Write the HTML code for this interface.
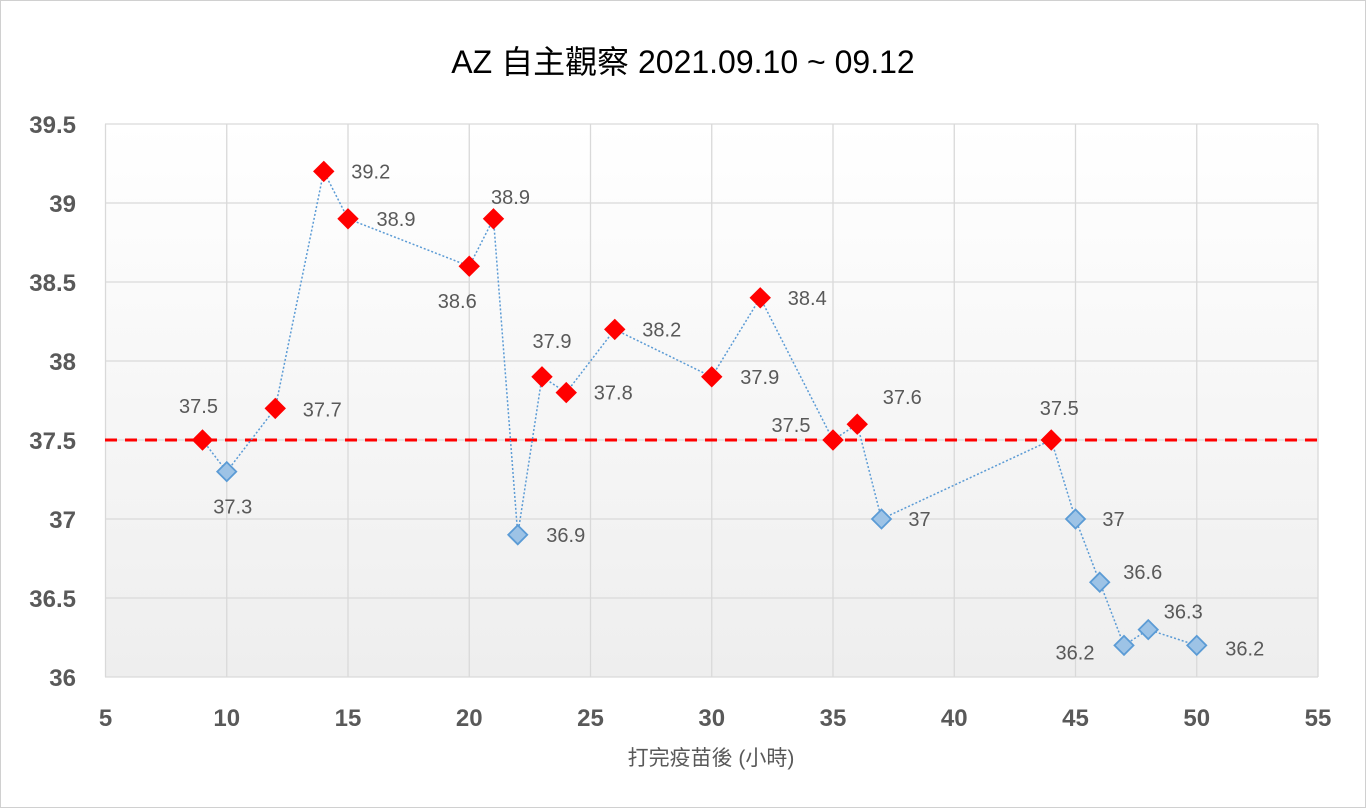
<!DOCTYPE html>
<html><head><meta charset="utf-8"><style>
html,body{margin:0;padding:0;background:#fff}
svg{display:block;font-family:"Liberation Sans","Noto Sans CJK TC",sans-serif}
</style></head><body>
<svg id="chart" width="1366" height="808" viewBox="0 0 1366 808">
<defs>
<linearGradient id="bg" x1="0" y1="0" x2="0" y2="1"><stop offset="0" stop-color="#ffffff"/><stop offset="1" stop-color="#eeeeee"/></linearGradient>
<filter id="sh" x="-1" y="-1" width="3" height="3"><feGaussianBlur stdDeviation="2.5"/></filter>
</defs>
<rect x="0.5" y="0.5" width="1365" height="807" fill="#fff" stroke="#d0d0d0"/>
<text x="683" y="73" text-anchor="middle" font-size="32" fill="#000">AZ 自主觀察 2021.09.10 ~ 09.12</text>
<rect x="105" y="124" width="1213" height="553" fill="url(#bg)"/>
<g id="grid"></g><g id="axes"></g><g id="ref"></g><g id="series"></g><g id="labels"></g>
<text x="711" y="765" text-anchor="middle" font-size="21" fill="#595959">打完疫苗後 (小時)</text>
</svg>
<script>
const xs=[9,10,12,14,15,20,21,22,23,24,26,30,32,35,36,37,44,45,46,47,48,50];
const temps=[37.5,37.3,37.7,39.2,38.9,38.6,38.9,36.9,37.9,37.8,38.2,37.9,38.4,37.5,37.6,37,37.5,37,36.6,36.2,36.3,36.2];
const xTicks=[5,10,15,20,25,30,35,40,45,50,55];
const yTicks=[36,36.5,37,37.5,38,38.5,39,39.5];
const threshold=37.5;
const labelDx=[-4,6,47,47,48,-12,17,48,10,47,47,48,47,-42,45,38,8,38,43,-49,35,48];
const labelDy=[-34,35,1,0,0,35,-22,0,-36,0,0,0,0,-15,-27,0,-32,0,-10,7,-18,3];
const X=v=>105.5+(v-5)*(1318-105.5)/50;
const Y=v=>677-(v-36)*(677-124)/3.5;
const NS="http://www.w3.org/2000/svg";
function mk(tag,attrs,parent,txt){const e=document.createElementNS(NS,tag);for(const k in attrs)e.setAttribute(k,attrs[k]);if(txt!==undefined)e.textContent=txt;document.getElementById(parent).appendChild(e);return e;}
xTicks.forEach(t=>{
 const l=mk('line',{x1:X(t),x2:X(t),y1:124,y2:677,stroke:'#d9d9d9','stroke-width':1.3},'grid');
 
 
 const tx=mk('text',{x:X(t),y:726,'text-anchor':'middle','font-size':24,'font-weight':'bold',fill:'#595959'},'axes',String(t));
 
 
});
yTicks.forEach(t=>{
 const l=mk('line',{x1:105,x2:1318,y1:Y(t),y2:Y(t),stroke:'#d9d9d9','stroke-width':1.3},'grid');
 
 
 const tx=mk('text',{x:76,y:Y(t)+9,'text-anchor':'end','font-size':24,'font-weight':'bold',fill:'#595959'},'axes',String(t));
 
 
});
const sh=mk('line',{x1:105,x2:1318,y1:Y(threshold)+9,y2:Y(threshold)+9,stroke:'#999','stroke-width':4,'stroke-dasharray':'12 8',filter:'url(#sh)',opacity:0.6},'ref');


const rl=mk('line',{x1:105,x2:1318,y1:Y(threshold),y2:Y(threshold),stroke:'#ff0000','stroke-width':3,'stroke-dasharray':'12 8'},'ref');


const pl=mk('polyline',{points:xs.map((x,i)=>X(x)+','+Y(temps[i])).join(' '),fill:'none',stroke:'#5b9bd5','stroke-width':1.5,'stroke-dasharray':'2 2'},'series');


xs.forEach((x,i)=>{
 const cx=X(x),cy=Y(temps[i]),hot=temps[i]>=threshold,s=hot?10:9.5;
 const m=mk('polygon',{points:`${cx},${cy-s} ${cx+s},${cy} ${cx},${cy+s} ${cx-s},${cy}`,fill:hot?'#ff0000':'#9dc3e6',stroke:hot?'#ff0000':'#5b9bd5','stroke-width':hot?1:1.8},'series');
 
 
 const t=mk('text',{x:cx+labelDx[i],y:cy+labelDy[i]+7,'text-anchor':'middle','font-size':20,fill:'#595959'},'labels',String(temps[i]));
 
 
});
</script>
</body></html>
